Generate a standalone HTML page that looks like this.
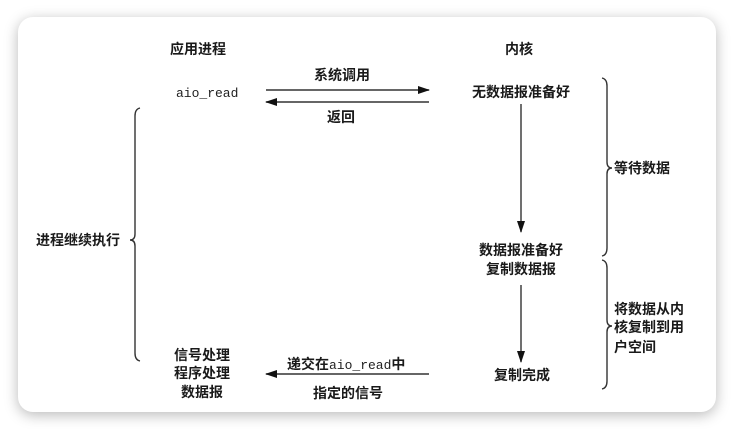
<!DOCTYPE html>
<html><head><meta charset="utf-8"><style>
html,body{margin:0;padding:0;background:#fff;}
body{width:734px;height:429px;position:relative;overflow:hidden;}
.card{position:absolute;left:18px;top:17px;width:698px;height:395px;background:#fff;border-radius:15px;box-shadow:0 3px 14px rgba(0,0,0,0.28);}
svg{position:absolute;left:0;top:0;}
text{font-family:"Liberation Sans","Noto Sans CJK SC",sans-serif;font-size:14px;fill:#1a1a1a;font-weight:bold;}
.m{font-family:"Liberation Mono",monospace;font-size:13px;font-weight:normal;fill:#222;}
</style></head><body>
<div class="card"></div>
<svg width="734" height="429" viewBox="0 0 734 429">
<defs>
<marker id="a" markerWidth="12" markerHeight="8" refX="11" refY="4" orient="auto" markerUnits="userSpaceOnUse">
<path d="M0,0 L12,4 L0,8 z" fill="#111"/></marker>
</defs>
<g stroke="#333" stroke-width="1.4" fill="none">
<line x1="266" y1="90" x2="429" y2="90" marker-end="url(#a)"/>
<line x1="429" y1="102" x2="266" y2="102" marker-end="url(#a)"/>
<line x1="521" y1="104" x2="521" y2="232" marker-end="url(#a)"/>
<line x1="521" y1="285" x2="521" y2="362" marker-end="url(#a)"/>
<line x1="429" y1="374" x2="266" y2="374" marker-end="url(#a)"/>
<path d="M602,78 Q607,79 607,86 L607,162 Q607,168 612,168 Q607,168 607,174 L607,248 Q607,255 602,256"/>
<path d="M602,260 Q607,261 607,268 L607,320 Q607,326 612,326 Q607,326 607,332 L607,381 Q607,388 602,389"/>
<path d="M140,108 Q135,109 135,116 L135,234 Q135,240 130,240 Q135,240 135,246 L135,353 Q135,360 140,361"/>
</g>
<text x="198" y="54" text-anchor="middle">应用进程</text>
<text x="519" y="54" text-anchor="middle">内核</text>
<text x="342" y="80" text-anchor="middle">系统调用</text>
<text x="341" y="122" text-anchor="middle">返回</text>
<text class="m" x="176" y="97">aio_read</text>
<text x="521" y="97" text-anchor="middle">无数据报准备好</text>
<text x="521" y="255" text-anchor="middle">数据报准备好</text>
<text x="521" y="274" text-anchor="middle">复制数据报</text>
<text x="522" y="380" text-anchor="middle">复制完成</text>
<text x="614" y="173">等待数据</text>
<text x="614" y="314">将数据从内</text>
<text x="614" y="332">核复制到用</text>
<text x="614" y="352">户空间</text>
<text x="36" y="245">进程继续执行</text>
<text x="202" y="360" text-anchor="middle">信号处理</text>
<text x="202" y="378" text-anchor="middle">程序处理</text>
<text x="202" y="397" text-anchor="middle">数据报</text>
<text x="287" y="369">递交在<tspan class="m">aio_read</tspan>中</text>
<text x="348" y="398" text-anchor="middle">指定的信号</text>
</svg>
</body></html>
